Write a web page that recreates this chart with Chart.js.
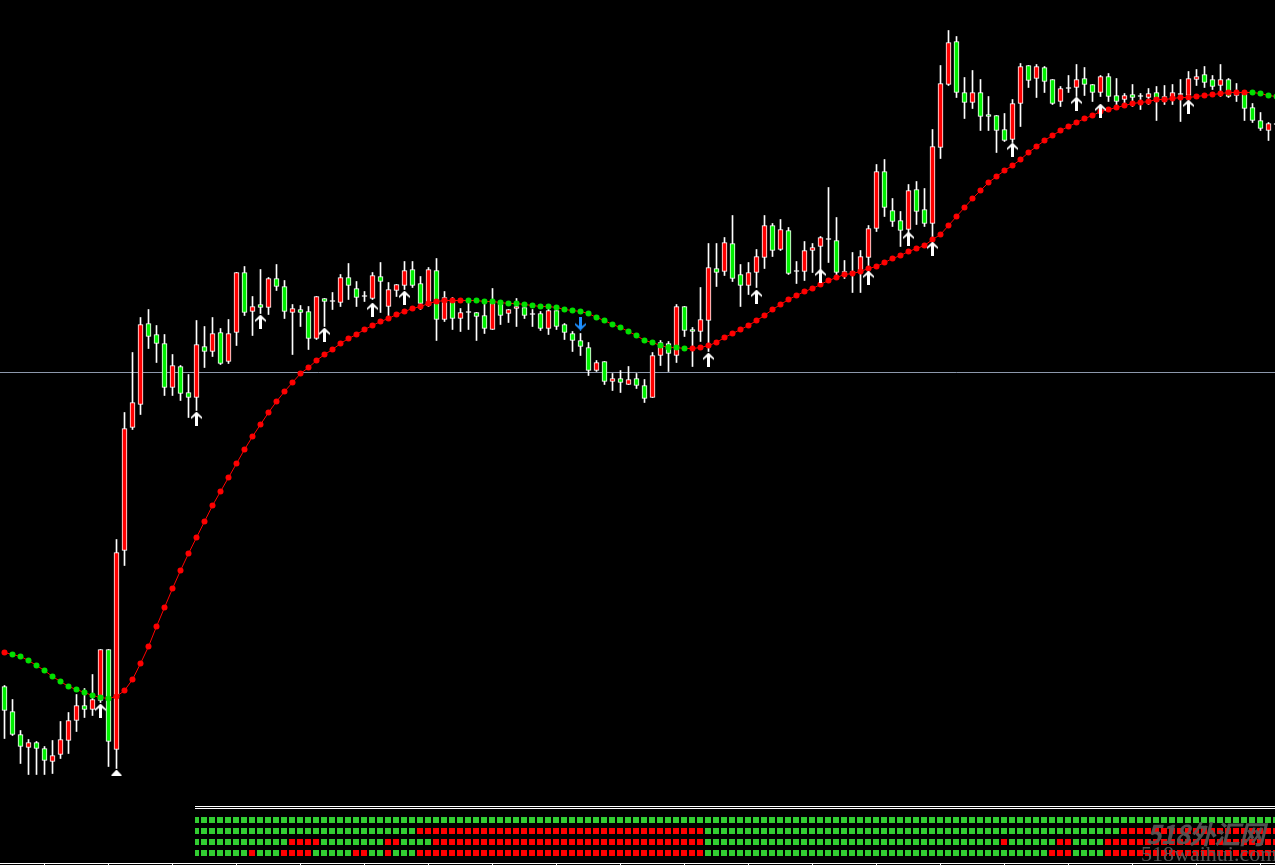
<!DOCTYPE html>
<html>
<head>
<meta charset="utf-8">
<script src="https://cdn.jsdelivr.net/npm/chart.js@4.4.1/dist/chart.umd.min.js"></script>
<style>
  html, body { margin: 0; padding: 0; background: #000; }
  #wrap { position: relative; width: 1275px; height: 865px; overflow: hidden; background: #000; }
  #main { position: absolute; left: 0; top: 0; }
  #panel { position: absolute; left: 195px; top: 800px; }
  .sep { position: absolute; left: 195px; top: 806px; width: 1080px; height: 1px; border-top: 1px solid #fff; border-bottom: 1px solid #fff; }
  .axis { position: absolute; left: 0; top: 863px; width: 1275px; height: 1px; background: #fff; }
  .tick { position: absolute; top: 864px; width: 1px; height: 2px; background: #fff; }
  .wm1 { position: absolute; left: 1146px; top: 814px; font: italic bold 26px "Noto Sans CJK SC", sans-serif; color: rgba(88,88,88,0.92); letter-spacing: -1px; white-space: nowrap; }
  .wm2 { position: absolute; left: 1141px; top: 841px; font: 22px "Liberation Serif", serif; color: rgba(92,92,92,0.92); white-space: nowrap; }
</style>
</head>
<body>
<div id="wrap">
  <canvas id="main" width="1275" height="800"></canvas>
  <div class="sep"></div>
  <canvas id="panel" width="1080" height="65"></canvas>
  <div class="axis"></div>
  <div class="wm1">518外汇网</div>
  <div class="wm2">518waihui.com</div>
</div>
<script>
// OHLC, one value per bar (bar 0 = leftmost)
const opens = [
  12686, 12661, 12638, 12625, 12630, 12624, 12611, 12618, 12632, 12652,
  12667, 12663, 12672, 12723, 12623, 12822, 12945, 12968, 13049, 13038,
  13029, 12985, 13006, 12980, 12975, 13026, 13021, 13040, 13011, 13040,
  13100, 13061, 13068, 13065, 13094, 13086, 13060, 13063, 13061, 13034,
  13074, 13071, 13070, 13095, 13084, 13076, 13074, 13096, 13066, 13082,
  13087, 13103, 13089, 13067, 13102, 13053, 13072, 13054, 13060, 13060,
  13057, 13043, 13070, 13059, 13064, 13065, 13058, 13059, 13044, 13062,
  13048, 13039, 13032, 13025, 13002, 13011, 12991, 12994, 12988, 12994,
  12987, 12975, 13017, 13029, 13017, 13066, 13043, 13041, 13052, 13104,
  13101, 13129, 13098, 13087, 13100, 13115, 13147, 13123, 13142, 13101,
  13101, 13122, 13126, 13133, 13132, 13100, 13100, 13100, 13115, 13144,
  13201, 13162, 13152, 13143, 13183, 13163, 13149, 13225, 13288, 13331,
  13280, 13270, 13280, 13258, 13257, 13243, 13233, 13269, 13307, 13294,
  13305, 13293, 13271, 13284, 13285, 13294, 13288, 13280, 13296, 13277,
  13273, 13278, 13276, 13275, 13280, 13271, 13275, 13278, 13277, 13293,
  13298, 13293, 13287, 13293, 13277, 13279, 13265, 13252, 13242, 13248
];
const highs = [
  12687, 12673, 12642, 12633, 12631, 12626, 12632, 12651, 12660, 12678,
  12684, 12698, 12723, 12723, 12833, 12960, 13020, 13055, 13063, 13047,
  13038, 13018, 13007, 12998, 13052, 13046, 13055, 13044, 13053, 13100,
  13106, 13076, 13103, 13095, 13108, 13092, 13068, 13067, 13066, 13076,
  13074, 13080, 13098, 13109, 13091, 13081, 13100, 13110, 13090, 13088,
  13111, 13111, 13096, 13105, 13114, 13081, 13075, 13064, 13070, 13060,
  13070, 13084, 13071, 13063, 13074, 13065, 13063, 13061, 13066, 13065,
  13049, 13041, 13039, 13030, 13012, 13011, 12999, 13002, 13006, 12999,
  12993, 13020, 13032, 13031, 13068, 13066, 13045, 13085, 13129, 13129,
  13135, 13157, 13108, 13110, 13123, 13157, 13149, 13153, 13145, 13111,
  13131, 13129, 13136, 13185, 13155, 13112, 13120, 13122, 13147, 13208,
  13213, 13174, 13161, 13188, 13191, 13184, 13243, 13307, 13342, 13336,
  13295, 13302, 13293, 13276, 13257, 13259, 13273, 13309, 13307, 13308,
  13306, 13293, 13286, 13297, 13308, 13305, 13288, 13297, 13299, 13294,
  13279, 13288, 13279, 13284, 13286, 13287, 13288, 13293, 13301, 13303,
  13306, 13297, 13308, 13294, 13289, 13282, 13269, 13260, 13250, 13250
];
const lows = [
  12634, 12637, 12609, 12598, 12598, 12598, 12599, 12614, 12619, 12641,
  12655, 12657, 12670, 12606, 12604, 12807, 12943, 12958, 13024, 13010,
  12977, 12977, 12972, 12955, 12962, 13005, 13016, 13008, 13009, 13027,
  13057, 13037, 13059, 13058, 13082, 13054, 13018, 13046, 13023, 13033,
  13046, 13063, 13066, 13073, 13066, 13071, 13073, 13060, 13056, 13076,
  13083, 13085, 13063, 13066, 13032, 13051, 13043, 13041, 13043, 13032,
  13039, 13043, 13048, 13050, 13046, 13054, 13046, 13042, 13038, 13043,
  13033, 13021, 13017, 12997, 13001, 12988, 12982, 12980, 12988, 12984,
  12970, 12975, 13007, 13001, 13010, 13036, 13006, 13031, 13021, 13086,
  13097, 13091, 13066, 13078, 13085, 13104, 13116, 13122, 13098, 13089,
  13092, 13100, 13103, 13110, 13096, 13094, 13080, 13080, 13098, 13141,
  13156, 13146, 13126, 13139, 13148, 13146, 13131, 13214, 13287, 13275,
  13254, 13264, 13242, 13242, 13220, 13231, 13230, 13246, 13285, 13275,
  13280, 13268, 13266, 13280, 13276, 13277, 13271, 13276, 13271, 13263,
  13265, 13266, 13263, 13268, 13252, 13268, 13268, 13251, 13275, 13287,
  13285, 13283, 13276, 13275, 13271, 13252, 13250, 13242, 13232, 13246
];
const closes = [
  12662, 12638, 12626, 12630, 12624, 12612, 12617, 12633, 12652, 12667,
  12663, 12673, 12723, 12631, 12820, 12944, 12970, 13048, 13036, 13029,
  12985, 13007, 12979, 12975, 13028, 13021, 13039, 13009, 13039, 13100,
  13060, 13066, 13065, 13094, 13086, 13061, 13064, 13060, 13034, 13076,
  13071, 13071, 13095, 13087, 13075, 13076, 13097, 13091, 13083, 13088,
  13102, 13087, 13069, 13103, 13053, 13075, 13054, 13060, 13060, 13056,
  13044, 13070, 13057, 13063, 13066, 13057, 13058, 13044, 13062, 13046,
  13040, 13032, 13026, 13002, 13010, 12991, 12994, 12990, 12993, 12987,
  12974, 13017, 13030, 13019, 13066, 13042, 13041, 13053, 13105, 13100,
  13130, 13094, 13087, 13100, 13116, 13147, 13122, 13143, 13099, 13101,
  13122, 13125, 13135, 13133, 13100, 13100, 13100, 13116, 13144, 13201,
  13165, 13151, 13142, 13182, 13161, 13149, 13226, 13289, 13330, 13280,
  13270, 13280, 13256, 13256, 13242, 13232, 13269, 13306, 13292, 13306,
  13291, 13269, 13284, 13284, 13293, 13288, 13280, 13296, 13276, 13271,
  13277, 13275, 13276, 13279, 13271, 13276, 13280, 13278, 13294, 13296,
  13290, 13286, 13293, 13276, 13280, 13264, 13252, 13244, 13249, 13248
];

// dotted trend line and its colour runs (R = rising, G = falling)
const trendLine = [
  12720, 12718, 12716, 12712, 12707, 12702, 12696, 12691, 12686, 12683,
  12680, 12677, 12675, 12674, 12676, 12682, 12693, 12709, 12726, 12746,
  12765, 12784, 12802, 12819, 12835, 12851, 12867, 12881, 12895, 12909,
  12923, 12936, 12948, 12960, 12971, 12981, 12990, 12999, 13005, 13012,
  13018, 13023, 13029, 13034, 13038, 13043, 13047, 13051, 13054, 13058,
  13061, 13064, 13066, 13069, 13071, 13072, 13072, 13072, 13072, 13072,
  13071, 13071, 13070, 13069, 13069, 13068, 13067, 13066, 13066, 13065,
  13063, 13062, 13061, 13059, 13055, 13052, 13048, 13045, 13041, 13037,
  13032, 13030, 13027, 13025, 13025, 13024, 13024, 13025, 13027, 13030,
  13035, 13039, 13043, 13047, 13052, 13057, 13063, 13068, 13073, 13077,
  13081, 13084, 13088, 13092, 13095, 13098, 13099, 13101, 13104, 13106,
  13110, 13114, 13117, 13121, 13124, 13127, 13133, 13138, 13147, 13156,
  13165, 13174, 13182, 13190, 13196, 13202, 13207, 13213, 13220, 13226,
  13232, 13237, 13242, 13246, 13250, 13254, 13257, 13261, 13263, 13265,
  13267, 13269, 13270, 13271, 13273, 13273, 13274, 13275, 13275, 13276,
  13277, 13278, 13279, 13280, 13280, 13280, 13280, 13279, 13277, 13276
];
const trendRuns = [['R', 1], ['G', 13], ['R', 44], ['G', 28], ['R', 70], ['G', 4]];

// signal arrows
const upArrowBars = [12, 24, 32, 40, 46, 50, 88, 94, 102, 108, 113, 116, 126, 134, 137, 148];
const upArrowPrices = [12662, 12954, 13051, 13038, 13063, 13075, 13013, 13076, 13097, 13095, 13134, 13124, 13223, 13269, 13262, 13266];
const downArrowBars = [72];
const downArrowPrices = [13049];
const triangleBars = [14];
const trianglePrices = [12600];

const levelPrice = 13000;

// lower panel: 4 rows of squares starting at bar 24, run-length encoded
const panelStart = 24;
const panelRow1 = [['G', 136]];
const panelRow2 = [['G', 28], ['R', 36], ['G', 52], ['R', 20]];
const panelRow3 = [['G', 12], ['R', 4], ['G', 8], ['R', 2], ['G', 4], ['R', 34], ['G', 37], ['R', 1], ['G', 6], ['R', 2], ['G', 4], ['R', 22]];
const panelRow4 = [['G', 7], ['R', 1], ['G', 3], ['R', 4], ['G', 5], ['R', 2], ['G', 2], ['R', 1], ['G', 3], ['R', 36], ['G', 43], ['R', 3], ['G', 4], ['R', 22]];

const RED = '#ff0000';
const GREEN = '#00f000';
const SQ_GREEN = '#32cd32';

function expandRuns(runs) {
  const out = [];
  runs.forEach(([c, n]) => { for (let k = 0; k < n; k++) out.push(c); });
  return out;
}

function makeArrow(color, down) {
  const c = document.createElement('canvas');
  c.width = 11; c.height = 14;
  const g = c.getContext('2d');
  g.fillStyle = color;
  const pts = [[5.5, 0], [11, 5.5], [11, 7.5], [7, 4.5], [7, 14], [4, 14], [4, 4.5], [0, 7.5], [0, 5.5]];
  g.beginPath();
  pts.forEach(([x, y], k) => {
    const yy = down ? 14 - y : y;
    if (k) g.lineTo(x, yy); else g.moveTo(x, yy);
  });
  g.closePath();
  g.fill();
  return c;
}

function makeTriangle(color) {
  const c = document.createElement('canvas');
  c.width = 11; c.height = 6;
  const g = c.getContext('2d');
  g.fillStyle = color;
  g.beginPath();
  g.moveTo(5.5, 0); g.lineTo(11, 6); g.lineTo(0, 6);
  g.closePath();
  g.fill();
  return c;
}

const wickData = lows.map((l, i) => ({ x: i, y: [l, highs[i]] }));
const bodyData = opens.map((o, i) => ({ x: i, y: [o, closes[i]] }));
const bodyColors = opens.map((o, i) => closes[i] > o ? RED : (closes[i] < o ? GREEN : '#ffffff'));
const trendDirs = expandRuns(trendRuns);
const trendData = trendLine.map((v, i) => ({ x: i, y: v }));
const trendColors = trendDirs.map(d => d === 'R' ? RED : '#00e000');

// main chart: x in bar units, each bar 8px wide
const xMin = -0.5625;
const xMax = xMin + 1275 / 8;

new Chart(document.getElementById('main'), {
  type: 'bar',
  data: {
    datasets: [
      {
        type: 'line', order: 6,
        data: [{ x: xMin - 1, y: levelPrice }, { x: xMax + 1, y: levelPrice }],
        borderColor: '#8c98ac', borderWidth: 1, pointRadius: 0
      },
      {
        order: 5, grouped: false, data: wickData,
        backgroundColor: '#ffffff', borderWidth: 0, barThickness: 1
      },
      {
        order: 4, grouped: false, data: bodyData,
        backgroundColor: bodyColors, borderColor: '#ffffff', borderWidth: 1,
        borderSkipped: false, barThickness: 5, minBarLength: 1
      },
      {
        type: 'line', order: 3, data: trendData,
        borderColor: RED, borderWidth: 1, pointRadius: 3,
        pointBackgroundColor: trendColors, pointBorderWidth: 0
      },
      {
        type: 'line', order: 2, showLine: false,
        data: triangleBars.map((b, k) => ({ x: b, y: trianglePrices[k] })),
        pointStyle: makeTriangle('#ffffff'), pointRadius: 6
      },
      {
        type: 'line', order: 1, showLine: false,
        data: upArrowBars.map((b, k) => ({ x: b, y: upArrowPrices[k] })),
        pointStyle: makeArrow('#ffffff', false), pointRadius: 6
      },
      {
        type: 'line', order: 1, showLine: false,
        data: downArrowBars.map((b, k) => ({ x: b, y: downArrowPrices[k] })),
        pointStyle: makeArrow('#1e8fff', true), pointRadius: 6
      }
    ]
  },
  options: {
    responsive: false,
    animation: false,
    events: [],
    layout: { padding: 0, autoPadding: false },
    plugins: { legend: { display: false }, tooltip: { enabled: false } },
    scales: {
      x: { type: 'linear', display: false, offset: false, min: xMin, max: xMax },
      y: { display: false, offset: false, min: 12572.5, max: 13372.5 }
    }
  }
});

// indicator panel
const panelRows = [panelRow1, panelRow2, panelRow3, panelRow4].map(expandRuns);
const panelSets = panelRows.map((row, r) => ({
  data: row.map((c, k) => ({ x: panelStart + k, y: r + 1 })),
  pointStyle: 'rect',
  pointRadius: 4.2427,
  pointBorderWidth: 0,
  pointBackgroundColor: row.map(c => c === 'R' ? RED : SQ_GREEN)
}));

new Chart(document.getElementById('panel'), {
  type: 'scatter',
  data: { datasets: panelSets },
  options: {
    responsive: false,
    animation: false,
    events: [],
    layout: { padding: 0, autoPadding: false },
    plugins: { legend: { display: false }, tooltip: { enabled: false } },
    scales: {
      x: { type: 'linear', display: false, offset: false, min: 23.875, max: 23.875 + 1080 / 8 },
      y: { display: false, reverse: true, min: 1 - 20 / 11, max: 1 + 45 / 11 }
    }
  }
});

// time axis ticks along the bottom edge
const wrap = document.getElementById('wrap');
for (let b = 5; b < 160; b += 8) {
  const t = document.createElement('div');
  t.className = 'tick';
  t.style.left = (8 * b + 4) + 'px';
  wrap.appendChild(t);
}
</script>
</body>
</html>
